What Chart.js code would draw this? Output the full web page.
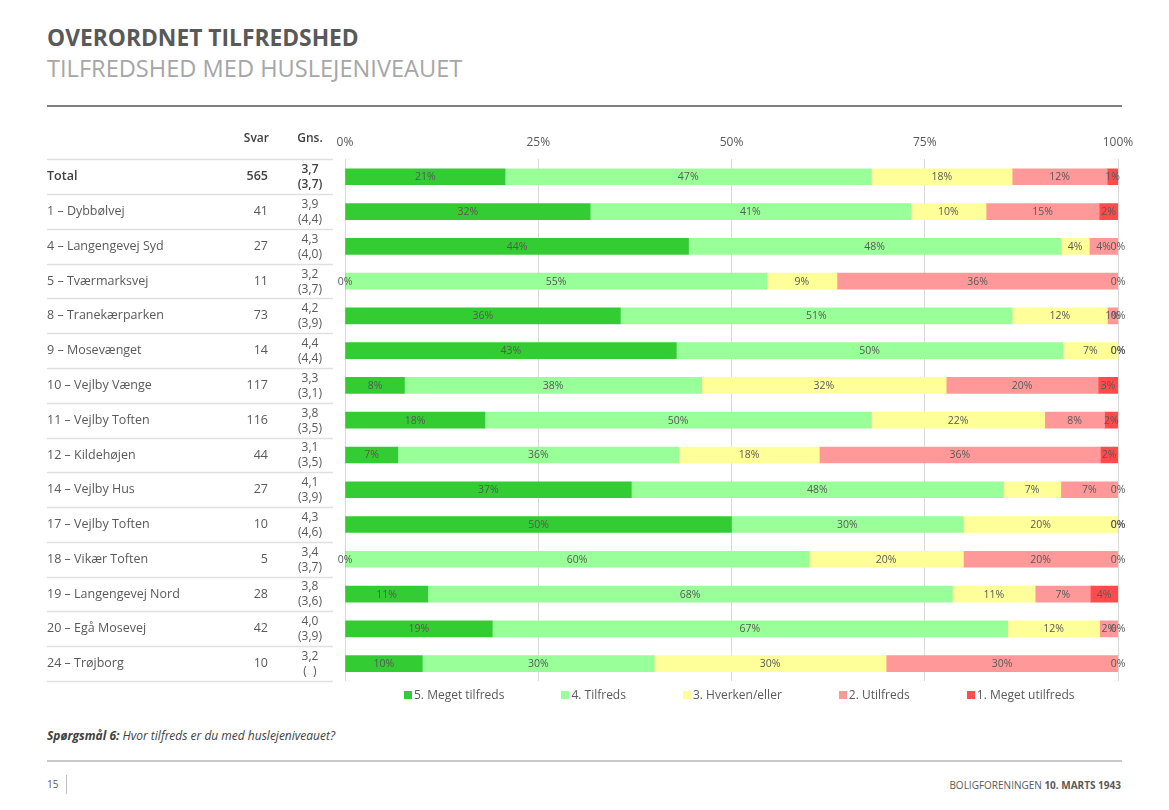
<!DOCTYPE html>
<html>
<head>
<meta charset="utf-8">
<script src="https://cdn.jsdelivr.net/npm/chart.js@4/dist/chart.umd.min.js"></script>
<style>
  body { margin: 0; width: 1169px; height: 810px; background: #fff; position: relative; overflow: hidden; font-family: "Open Sans", sans-serif; color: #595959; }
  .abs { position: absolute; }
  #title { left: 47px; top: 27px; font-size: 22.8px; font-weight: 700; color: #595959; line-height: 1; }
  #subtitle { left: 47px; top: 57px; font-size: 23.6px; color: #a6a6a6; line-height: 1; }
  #topline { left: 47px; top: 105px; width: 1075px; height: 2px; background: #808080; }
  #chartbox { left: 0; top: 0; width: 1169px; height: 700px; }
  #legend { left: 404px; top: 686px; display: flex; gap: 57px; font-size: 12px; color: #595959; }
  #legend span.box { display: inline-block; width: 8px; height: 8px; margin-right: 2px; }
  #question { left: 47px; top: 727px; font-size: 12px; font-style: italic; color: #404040; }
  #bottomline { left: 47px; top: 760px; width: 1075px; height: 2px; background: #c8c8c8; }
  #page { left: 47px; top: 777px; font-size: 10px; color: #595959; }
  #pagesep { left: 66px; top: 775px; width: 1px; height: 19px; background: #bfbfbf; }
  #footer { right: 48px; top: 778px; font-size: 10px; color: #595959; }
</style>
</head>
<body>
<div id="title" class="abs">OVERORDNET TILFREDSHED</div>
<div id="subtitle" class="abs">TILFREDSHED MED HUSLEJENIVEAUET</div>
<div id="topline" class="abs"></div>
<div id="chartbox" class="abs"><canvas id="chart" width="1169" height="700"></canvas></div>
<div id="legend" class="abs"></div>
<div id="question" class="abs"><b>Spørgsmål 6:</b> Hvor tilfreds er du med huslejeniveauet?</div>
<div id="bottomline" class="abs"></div>
<div id="page" class="abs">15</div>
<div id="pagesep" class="abs"></div>
<div id="footer" class="abs">BOLIGFORENINGEN <b>10. MARTS 1943</b></div>
<script>
const categories = ['Total', '1 – Dybbølvej', '4 – Langengevej Syd', '5 – Tværmarksvej', '8 – Tranekærparken',
  '9 – Mosevænget', '10 – Vejlby Vænge', '11 – Vejlby Toften', '12 – Kildehøjen', '14 – Vejlby Hus',
  '17 – Vejlby Toften', '18 – Vikær Toften', '19 – Langengevej Nord', '20 – Egå Mosevej', '24 – Trøjborg'];
const svar = [565, 41, 27, 11, 73, 14, 117, 116, 44, 27, 10, 5, 28, 42, 10];
const gns = ['3,7', '3,9', '4,3', '3,2', '4,2', '4,4', '3,3', '3,8', '3,1', '4,1', '4,3', '3,4', '3,8', '4,0', '3,2'];
const gnsPrev = ['(3,7)', '(4,4)', '(4,0)', '(3,7)', '(3,9)', '(4,4)', '(3,1)', '(3,5)', '(3,5)', '(3,9)', '(4,6)', '(3,7)', '(3,6)', '(3,9)', '(  )'];
const xTicks = ['0%', '25%', '50%', '75%', '100%'];

const seriesNames = ['5. Meget tilfreds', '4. Tilfreds', '3. Hverken/eller', '2. Utilfreds', '1. Meget utilfreds'];
const seriesColors = ['#33cc33', '#99ff99', '#ffff99', '#ff9999', '#ff4b4b'];

const megetTilfreds = [20.7, 31.71, 44.44, 0, 35.62, 42.86, 7.69, 18.10, 6.82, 37.04, 50, 0, 10.71, 19.05, 10];
const tilfreds = [47.4, 41.46, 48.15, 54.55, 50.68, 50.00, 38.46, 50.00, 36.36, 48.15, 30, 60, 67.86, 66.67, 30];
const hverken = [18.2, 9.76, 3.70, 9.09, 12.33, 7.14, 31.62, 22.41, 18.18, 7.41, 20, 20, 10.71, 11.90, 30];
const utilfreds = [12.3, 14.63, 3.70, 36.36, 1.37, 0, 19.66, 7.76, 36.36, 7.41, 0, 20, 7.14, 2.38, 30];
const megetUtilfreds = [1.4, 2.44, 0, 0, 0, 0, 2.56, 1.72, 2.27, 0, 0, 0, 3.57, 0, 0];

const seriesValues = [megetTilfreds, tilfreds, hverken, utilfreds, megetUtilfreds];
const FONT = '"Open Sans", sans-serif';

// percent labels in the middle of every segment, zeros included
const barLabels = {
  id: 'barLabels',
  afterDatasetsDraw(chart) {
    const ctx = chart.ctx;
    ctx.save();
    ctx.font = '10.5px ' + FONT;
    ctx.fillStyle = '#595959';
    ctx.textAlign = 'center';
    ctx.textBaseline = 'middle';
    chart.data.datasets.forEach((ds, i) => {
      chart.getDatasetMeta(i).data.forEach((bar, j) => {
        const cx = (bar.x + bar.base) / 2;
        ctx.fillText(Math.round(ds.data[j]) + '%', cx, bar.y + 0.5);
      });
    });
    ctx.restore();
  }
};

// left table: name, Svar, Gns. laid on the y scale rows
const sideTable = {
  id: 'sideTable',
  afterDraw(chart) {
    const ctx = chart.ctx;
    const y = chart.scales.y;
    const step = y.getPixelForValue(1) - y.getPixelForValue(0);
    ctx.save();
    ctx.textBaseline = 'middle';
    ctx.fillStyle = '#404040';
    ctx.font = '600 12px ' + FONT;
    ctx.textAlign = 'right';
    ctx.fillText('Svar', 269, 139);
    ctx.textAlign = 'center';
    ctx.fillText('Gns.', 310, 139);

    ctx.strokeStyle = '#e0e0e0';
    ctx.lineWidth = 1.5;
    for (let i = 0; i <= categories.length; i++) {
      const ly = Math.round(y.getPixelForValue(i) - step / 2) + 0.5;
      ctx.beginPath();
      ctx.moveTo(47, ly);
      ctx.lineTo(333, ly);
      ctx.stroke();
    }

    categories.forEach((name, i) => {
      const cy = y.getPixelForValue(i);
      const isTotal = i === 0;
      ctx.fillStyle = isTotal ? '#404040' : '#595959';
      ctx.font = (isTotal ? '600 ' : '') + '12.5px ' + FONT;
      ctx.textAlign = 'left';
      ctx.fillText(name, 47, cy);
      ctx.textAlign = 'right';
      ctx.fillText(String(svar[i]), 268, cy);
      ctx.font = (isTotal ? '600 ' : '') + '12px ' + FONT;
      ctx.textAlign = 'center';
      ctx.fillText(gns[i], 310, cy - 7);
      ctx.fillText(gnsPrev[i], 310, cy + 8);
    });
    ctx.restore();
  }
};

const chart = new Chart(document.getElementById('chart'), {
  type: 'bar',
  data: {
    labels: categories,
    datasets: seriesNames.map((name, i) => ({
      label: name,
      data: seriesValues[i],
      backgroundColor: seriesColors[i],
      barThickness: 16,
    })),
  },
  options: {
    indexAxis: 'y',
    responsive: false,
    animation: false,
    maintainAspectRatio: false,
    layout: { padding: { left: 345, right: 51, top: 125, bottom: 19 } },
    scales: {
      x: {
        stacked: true,
        position: 'top',
        min: 0,
        max: 100,
        ticks: {
          stepSize: 25,
          padding: 10,
          color: '#595959',
          font: { family: FONT, size: 12 },
          callback: (v) => xTicks[v / 25],
        },
        grid: { color: '#d9d9d9', drawTicks: false },
        border: { display: false },
      },
      y: { stacked: true, display: false },
    },
    plugins: {
      legend: { display: false },
      tooltip: { enabled: false },
    },
  },
  plugins: [barLabels, sideTable],
});

// html legend from the chart's own legend items
const legendEl = document.getElementById('legend');
chart.options.plugins.legend.labels.generateLabels(chart).forEach((item) => {
  const el = document.createElement('div');
  el.innerHTML = '<span class="box" style="background:' + item.fillStyle + '"></span>' + item.text;
  legendEl.appendChild(el);
});
</script>
</body>
</html>
